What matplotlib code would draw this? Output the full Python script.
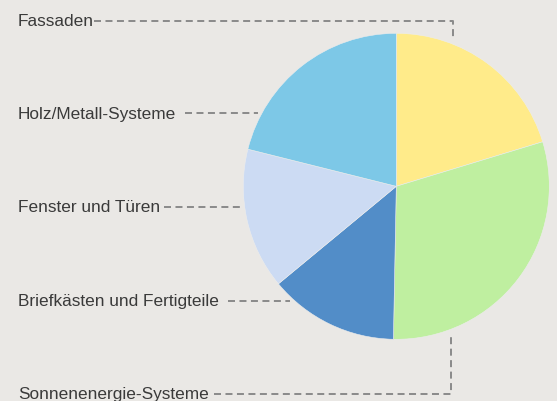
import matplotlib.pyplot as plt
import numpy as np

# Anteile (in Prozent), im Uhrzeigersinn ab 12 Uhr
labels = ["Fassaden", "Sonnenenergie-Systeme", "Briefkästen und Fertigteile",
          "Fenster und Türen", "Holz/Metall-Systeme"]
values = [20.3, 30.0, 13.7, 14.9, 21.1]
colors = ["#FFEB8A", "#BFEFA0", "#528DC8", "#CCDBF3", "#7DC8E7"]

W, H = 557, 401
bg = "#EAE8E5"

fig = plt.figure(figsize=(W / 100, H / 100), dpi=100, facecolor=bg)
ax = fig.add_axes([0, 0, 1, 1])
ax.set_facecolor(bg)

cx, cy, r = 396.3, H - 186.3, 153
ax.pie(values, colors=colors, startangle=90, counterclock=False,
       center=(cx, cy), radius=r, frame=True,
       wedgeprops=dict(edgecolor="#EDEDED", linewidth=0.4))
ax.set_xlim(0, W)
ax.set_ylim(0, H)
ax.set_aspect("equal")
ax.axis("off")

# Beschriftungen mit gestrichelten Führungslinien (Bildkoordinaten, y nach unten)
txtcol = "#3A3A3A"
linecol = "#8A8A8A"
ls = dict(color=linecol, lw=1.4, dashes=(3.6, 2.3))

def y(v):
    return H - v

# Grundlinien der Texte
label_pos = {
    "Fassaden": (18, 26),
    "Holz/Metall-Systeme": (18, 119),
    "Fenster und Türen": (18, 212.5),
    "Briefkästen und Fertigteile": (18, 306),
    "Sonnenenergie-Systeme": (18, 399.3),
}
for name, (tx, ty) in label_pos.items():
    ax.text(tx, y(ty), name, fontsize=12.4, color=txtcol, va="baseline", ha="left",
            family="Liberation Sans")

ax.plot([94, 453, 453], [y(21), y(21), y(39)], **ls)
ax.plot([185, 258], [y(113), y(113)], **ls)
ax.plot([164, 241], [y(207), y(207)], **ls)
ax.plot([228, 290], [y(301), y(301)], **ls)
ax.plot([214, 451, 451], [y(394), y(394), y(335)], **ls)

fig.savefig("out.png", dpi=100, facecolor=bg)
